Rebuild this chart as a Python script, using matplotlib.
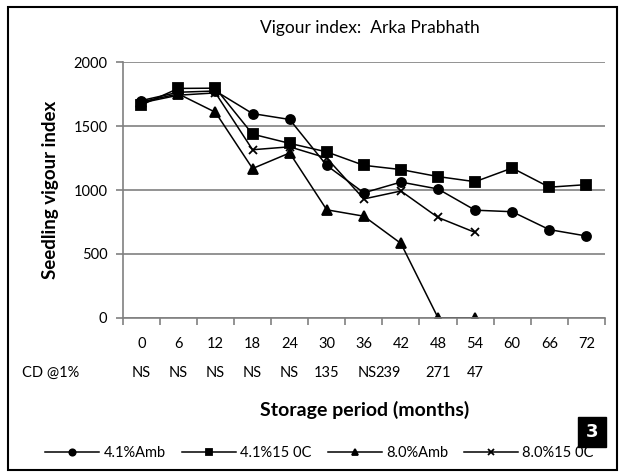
import matplotlib
matplotlib.use('Agg')
import matplotlib.pyplot as plt
from matplotlib.patches import Rectangle
import numpy as np

plt.rcParams['font.family'] = ['Lato', 'DejaVu Sans']

# storage period (months) and seedling vigour index per treatment
months = [0, 6, 12, 18, 24, 30, 36, 42, 48, 54, 60, 66, 72]
amb_41 = [1700, 1765, 1775, 1598, 1552, 1192, 978, 1062, 1008, 842, 830, 690, 640]
c15_41 = [1665, 1795, 1797, 1437, 1365, 1298, 1193, 1160, 1105, 1065, 1172, 1022, 1042]
amb_80 = [1690, 1752, 1608, 1168, 1290, 845, 795, 582, 0, 0]
c15_80 = [1682, 1742, 1760, 1315, 1338, 1250, 930, 992, 785, 668]
cd_vals = ['NS', 'NS', 'NS', 'NS', 'NS', '135', 'NS', '239', '271', '47']

series = [
    (amb_41, 'o', '4.1%Amb'),
    (c15_41, 's', '4.1%15 0C'),
    (amb_80, '^', '8.0%Amb'),
    (c15_80, 'x', '8.0%15 0C'),
]

fig = plt.figure(figsize=(6.23, 4.75), dpi=100)
ax = fig.add_axes([0.197, 0.331, 0.774, 0.538])

grey = '#808080'
for vals, mk, lab in series:
    xs = np.arange(len(vals))
    ms = 6.5 if mk != 'x' else 5.5
    ax.plot(xs, vals, color='black', lw=1.1, marker=mk, ms=ms,
            mew=1.3, mfc='black', mec='black', label=lab)

ax.set_xlim(-0.5, len(months) - 0.5)
ax.set_ylim(0, 2000)
ax.set_yticks([0, 500, 1000, 1500, 2000])
ax.yaxis.grid(True, color=grey, lw=1.2)
ax.set_axisbelow(True)
for s in ['top', 'right']:
    ax.spines[s].set_visible(False)
for s in ['left', 'bottom']:
    ax.spines[s].set_color(grey)
    ax.spines[s].set_linewidth(1.2)
ax.tick_params(axis='y', direction='out', length=5, color=grey, width=1.2,
               labelsize=10.5, pad=6)
ax.set_xticks(np.arange(len(months)))
ax.set_xticklabels([str(m) for m in months], fontsize=10.5)
ax.tick_params(axis='x', which='major', length=0, pad=14)
ax.set_xticks(np.arange(len(months) + 1) - 0.5, minor=True)
ax.tick_params(axis='x', which='minor', direction='out', length=5,
               color=grey, width=1.2)

# CD row below the month labels
tr = ax.get_xaxis_transform()
ax.text(-2.45, -0.215, 'CD @1%', transform=tr, ha='center', va='center',
        fontsize=10.5)
for i, v in enumerate(cd_vals):
    dx = 0
    if i == 6:
        dx = 0.1
    if i == 7:
        dx = -0.35
    ax.text(i + dx, -0.215, v, transform=tr, ha='center', va='center',
            fontsize=10.5)

ax.set_ylabel('Seedling vigour index', fontsize=13.5, fontweight='bold',
              labelpad=10)
fig.text(0.586, 0.137, 'Storage period (months)', ha='center', va='center',
         fontsize=14, fontweight='bold')
fig.text(0.594, 0.94, 'Vigour index:  Arka Prabhath', ha='center',
         va='center', fontsize=12.5)

fig.legend(loc='center', bbox_to_anchor=(0.513, 0.047), ncol=4,
           frameon=False, fontsize=10.5, handlelength=3.7, markerscale=0.7,
           columnspacing=1.1, handletextpad=0.3)

# outer frame and panel number
fig.patches.append(Rectangle((0.013, 0.01), 0.977, 0.975, transform=fig.transFigure,
                             fill=False, ec='black', lw=1.5))
fig.patches.append(Rectangle((0.928, 0.06), 0.044, 0.062, transform=fig.transFigure,
                             fc='black', ec='black'))
fig.text(0.95, 0.091, '3', color='white', fontsize=13, fontweight='bold',
         ha='center', va='center', family='DejaVu Sans')

fig.savefig('out.png', dpi=100)
